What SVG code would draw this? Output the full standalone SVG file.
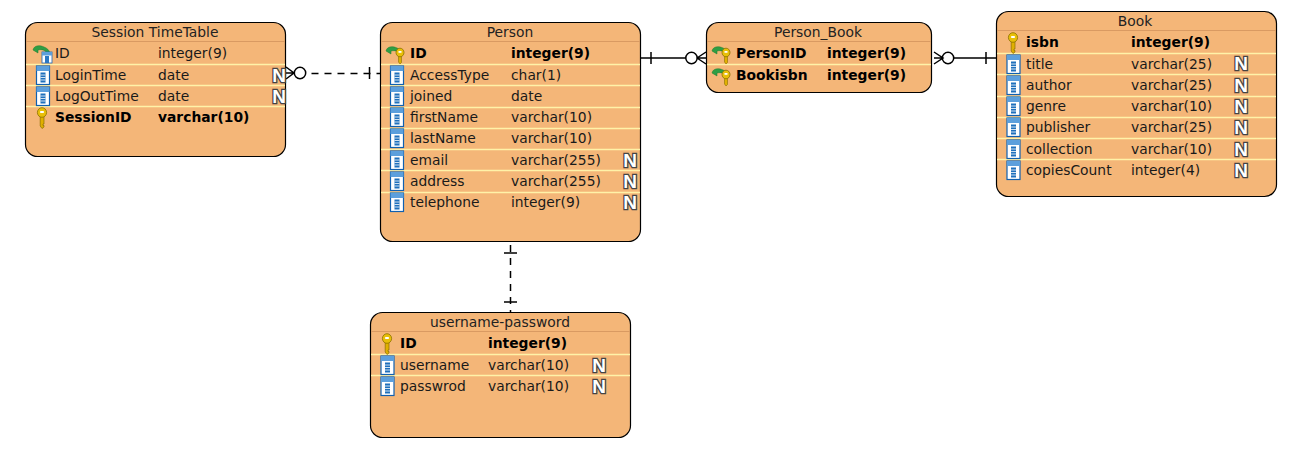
<svg xmlns="http://www.w3.org/2000/svg" xmlns:xlink="http://www.w3.org/1999/xlink" width="1301" height="454" viewBox="0 0 1301 454">
<style>
text{font-family:"DejaVu Sans",sans-serif;font-size:13.85px;fill:#1a1a1a}
.b{font-weight:700;fill:#000}
.t{text-anchor:middle;fill:#222}
.box{fill:#f4b678;stroke:#000;stroke-width:1.2}
.h{stroke:#d99a62;stroke-width:1}
.d{stroke:#fff2a8;stroke-width:1.4}
.n{font-family:"Liberation Sans",sans-serif;font-weight:700;font-size:19px;fill:#fff;stroke:#444;stroke-width:2.6;paint-order:stroke;text-anchor:middle}
.c{fill:none;stroke:#000;stroke-width:1.5}
.dash{stroke-dasharray:7 6}
</style>
<defs>
<g id="key"><path d="M-1.800 -2V9L0 11.500 2 10V8.500H1V7H2V-2Z" fill="#e0b000" stroke="#8a7000" stroke-width=".7"/><ellipse cx="0" cy="-4.500" rx="4.600" ry="4.800" fill="#e8bf08" stroke="#8a7000" stroke-width=".8"/><rect x="-1.800" y="-6" width="3.600" height="2" fill="#fff"/></g>
<g id="col"><rect x="-6.500" y="-9" width="13" height="18.500" fill="#fff" stroke="#1060b0" stroke-width="1.200"/><rect x="-6.500" y="-9" width="13" height="5" fill="#5c9fdc"/><rect x="-2.500" y="-2.500" width="5" height="10" fill="#1f70bc"/><path d="M-2.500 0H2.500M-2.500 2.500H2.500M-2.500 5H2.500" stroke="#fff" stroke-width=".8"/></g>
<path id="arrow" d="M-9 -3C-8 -8 -2 -8 2 -6 5 -5 7 -3 8 0L5 0C3 -3 0 -4 -4 -3L-4 0Z" fill="#2f9e44" stroke="#1b7a2f" stroke-width=".5"/>
<g id="fkcol"><use xlink:href="#arrow" x="5" y="3"/><rect x="5" y="2" width="10" height="11" fill="#fff" stroke="#1868b8" stroke-width=".8"/><rect x="5" y="2" width="10" height="3.500" fill="#5c9fdc"/><rect x="8" y="6" width="4" height="7" fill="#2a78c4"/></g>
<g id="fkkey"><use xlink:href="#arrow" x="7" y="4"/><path d="M10.500 4V12L12 14 13.500 12.500V4Z" fill="#e0b000" stroke="#8a7000" stroke-width=".6"/><ellipse cx="12" cy="2.500" rx="4" ry="4.300" fill="#e8bf08" stroke="#8a7000" stroke-width=".8"/><rect x="10.500" y="1" width="3" height="1.800" fill="#fff"/></g>
</defs>
<rect width="1301" height="454" fill="#fff"/>

<g id="connectors">
<g id="session-person"><path class="c dash" d="M311.500 73.500H380"/><path class="c" d="M286 67L294 73 286 79M286 73H294M369.500 67V79"/><circle class="c" cx="300" cy="73" r="5.700"/></g>
<g id="person-personbook"><path class="c" d="M641 58H686M651 52V64M697 58L706 52M697 58L706 64M697 58H706"/><circle class="c" cx="691.500" cy="58" r="5.700"/></g>
<g id="personbook-book"><path class="c" d="M954 58H996M986 52V64M934 52L943 58 934 64M934 58H943"/><circle class="c" cx="948" cy="58" r="5.700"/></g>
<g id="person-username"><path class="c dash" d="M510.500 245V312"/><path class="c" d="M504 253H517M504 302H517"/></g>
</g>

<g id="session-timetable">
<rect class="box" x="25.500" y="22.500" width="260" height="134" rx="12"/>
<path class="h" d="M26 41.500H285"/><path class="d" d="M26 64.500H285M26 85.500H285M26 106.500H285"/>
<text class="t" x="155" y="37">Session TimeTable</text>
<use xlink:href="#fkcol" x="37" y="50"/><text x="55" y="58">ID</text><text x="158" y="58">integer(9)</text>
<use xlink:href="#col" x="43" y="75"/><text x="55" y="80">LoginTime</text><text x="158" y="80">date</text><text class="n" x="279" y="82">N</text>
<use xlink:href="#col" x="43" y="96"/><text x="55" y="101">LogOutTime</text><text x="158" y="101">date</text><text class="n" x="279" y="103">N</text>
<use xlink:href="#key" x="42" y="117"/><text class="b" x="55" y="122">SessionID</text><text class="b" x="158" y="122">varchar(10)</text>
</g>

<g id="person">
<rect class="box" x="380.500" y="22.500" width="260" height="219" rx="12"/>
<path class="h" d="M381 41.500H640"/><path class="d" d="M381 64.500H640M381 85.500H640M381 107.500H640M381 128.500H640M381 149.500H640M381 170.500H640M381 192.500H640"/>
<text class="t" x="510" y="37">Person</text>
<use xlink:href="#fkkey" x="388" y="50"/><text class="b" x="410" y="58">ID</text><text class="b" x="511" y="58">integer(9)</text>
<use xlink:href="#col" x="397" y="75"/><text x="410" y="80">AccessType</text><text x="511" y="80">char(1)</text>
<use xlink:href="#col" x="397" y="96"/><text x="410" y="101">joined</text><text x="511" y="101">date</text>
<use xlink:href="#col" x="397" y="117"/><text x="410" y="122">firstName</text><text x="511" y="122">varchar(10)</text>
<use xlink:href="#col" x="397" y="138"/><text x="410" y="143">lastName</text><text x="511" y="143">varchar(10)</text>
<use xlink:href="#col" x="397" y="160"/><text x="410" y="165">email</text><text x="511" y="165">varchar(255)</text><text class="n" x="630" y="167">N</text>
<use xlink:href="#col" x="397" y="181"/><text x="410" y="186">address</text><text x="511" y="186">varchar(255)</text><text class="n" x="630" y="188">N</text>
<use xlink:href="#col" x="397" y="202"/><text x="410" y="207">telephone</text><text x="511" y="207">integer(9)</text><text class="n" x="630" y="209">N</text>
</g>

<g id="person-book">
<rect class="box" x="706.500" y="22.500" width="225" height="70" rx="12"/>
<path class="h" d="M707 41.500H931"/><path class="d" d="M707 64.500H931"/>
<text class="t" x="818" y="37">Person_Book</text>
<use xlink:href="#fkkey" x="714" y="50"/><text class="b" x="736" y="58">PersonID</text><text class="b" x="827" y="58">integer(9)</text>
<use xlink:href="#fkkey" x="714" y="72"/><text class="b" x="736" y="80">Bookisbn</text><text class="b" x="827" y="80">integer(9)</text>
</g>

<g id="book">
<rect class="box" x="996.500" y="11.500" width="280" height="185" rx="12"/>
<path class="h" d="M997 30.500H1276"/><path class="d" d="M997 53.500H1276M997 74.500H1276M997 96.500H1276M997 117.500H1276M997 138.500H1276M997 159.500H1276"/>
<text class="t" x="1135" y="26">Book</text>
<use xlink:href="#key" x="1013" y="42"/><text class="b" x="1026" y="47">isbn</text><text class="b" x="1131" y="47">integer(9)</text>
<use xlink:href="#col" x="1013.500" y="64"/><text x="1026" y="69">title</text><text x="1131" y="69">varchar(25)</text><text class="n" x="1241" y="70">N</text>
<use xlink:href="#col" x="1013.500" y="85"/><text x="1026" y="90">author</text><text x="1131" y="90">varchar(25)</text><text class="n" x="1241" y="92">N</text>
<use xlink:href="#col" x="1013.500" y="106"/><text x="1026" y="111">genre</text><text x="1131" y="111">varchar(10)</text><text class="n" x="1241" y="113">N</text>
<use xlink:href="#col" x="1013.500" y="127"/><text x="1026" y="132">publisher</text><text x="1131" y="132">varchar(25)</text><text class="n" x="1241" y="134">N</text>
<use xlink:href="#col" x="1013.500" y="149"/><text x="1026" y="154">collection</text><text x="1131" y="154">varchar(10)</text><text class="n" x="1241" y="156">N</text>
<use xlink:href="#col" x="1013.500" y="170"/><text x="1026" y="175">copiesCount</text><text x="1131" y="175">integer(4)</text><text class="n" x="1241" y="177">N</text>
</g>

<g id="username-password">
<rect class="box" x="370.500" y="312.500" width="260" height="125" rx="12"/>
<path class="h" d="M371 331.500H630"/><path class="d" d="M371 354.500H630M371 375.500H630"/>
<text class="t" x="500" y="327">username-password</text>
<use xlink:href="#key" x="387" y="343"/><text class="b" x="400" y="348">ID</text><text class="b" x="488" y="348">integer(9)</text>
<use xlink:href="#col" x="387.500" y="365"/><text x="400" y="370">username</text><text x="488" y="370">varchar(10)</text><text class="n" x="599" y="372">N</text>
<use xlink:href="#col" x="387.500" y="386"/><text x="400" y="391">passwrod</text><text x="488" y="391">varchar(10)</text><text class="n" x="599" y="393">N</text>
</g>
</svg>
